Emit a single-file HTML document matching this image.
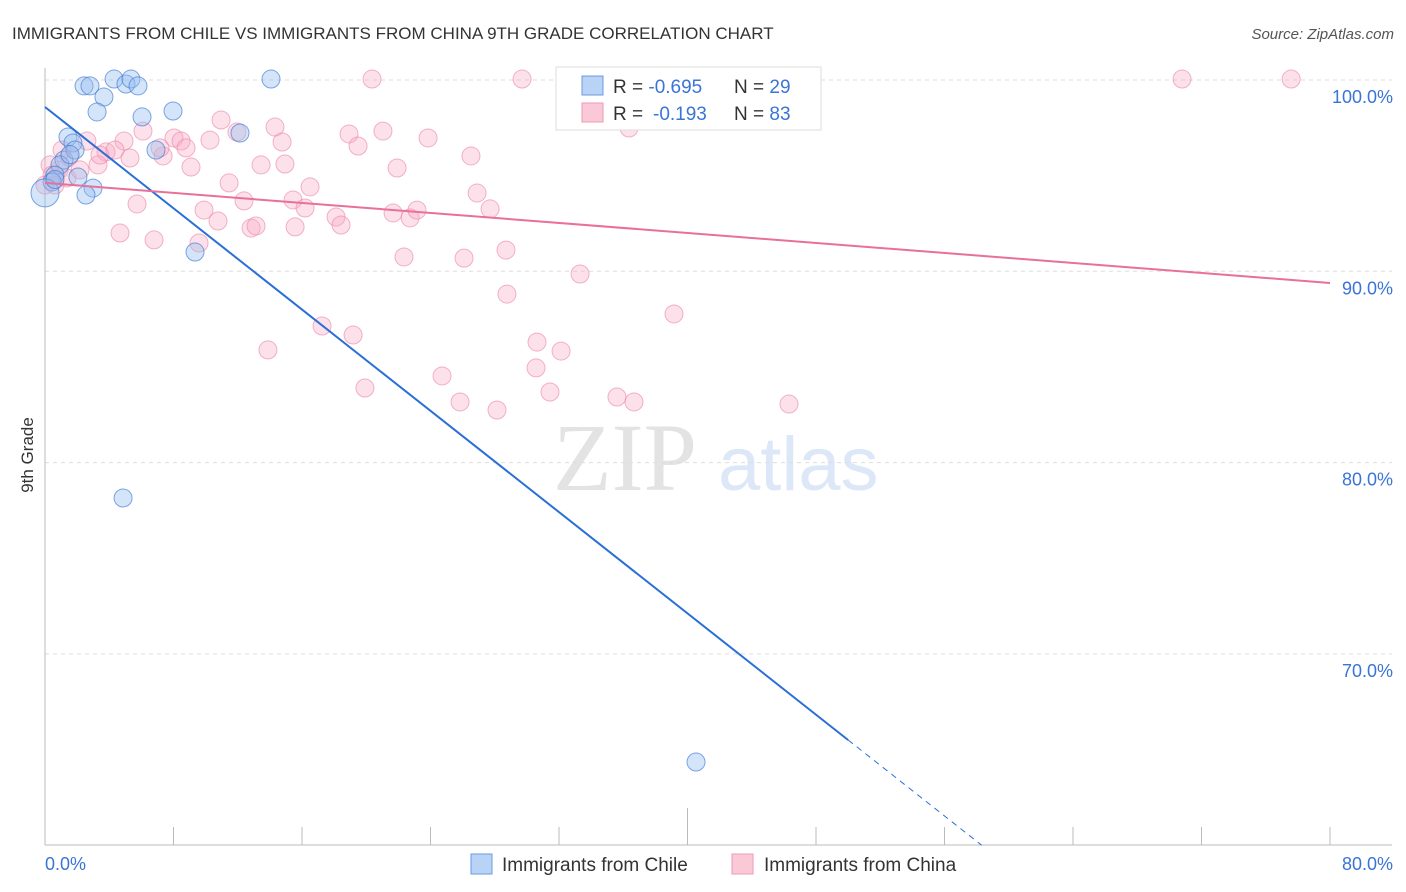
<!DOCTYPE html>
<html><head><meta charset="utf-8"><style>
html,body{margin:0;padding:0;background:#fff;width:1406px;height:892px;overflow:hidden;font-family:"Liberation Sans",sans-serif}
</style></head><body>
<svg id="chart" width="1406" height="892" xmlns="http://www.w3.org/2000/svg" font-family="Liberation Sans, sans-serif">
<text x="12" y="39" font-size="17" fill="#333">IMMIGRANTS FROM CHILE VS IMMIGRANTS FROM CHINA 9TH GRADE CORRELATION CHART</text>
<text x="1394" y="39" font-size="15" fill="#555" text-anchor="end" font-style="italic">Source: ZipAtlas.com</text>
<text transform="translate(33,455) rotate(-90)" font-size="17" fill="#333" text-anchor="middle">9th Grade</text>
<g>
<text x="553" y="490" font-size="96" fill="#e3e3e3" font-family="Liberation Serif, serif">ZIP</text>
<text x="718" y="490" font-size="76" fill="#dce8f7">atlas</text>
</g>
<g id="grid"></g>
<g id="axes"></g>
<g id="pinkPts"></g>
<g id="bluePts"></g>
<g id="trends"></g>
<g>
<rect x="556" y="67" width="265" height="63" fill="#fff" stroke="#ddd"/>
<rect x="582" y="76" width="21" height="19" fill="#b8d3f5" stroke="#6a9be0"/>
<rect x="582" y="103" width="21" height="19" fill="#fbc8d7" stroke="#ee9ab4"/>
<text x="613" y="93" font-size="19" fill="#333">R = <tspan fill="#3a74d6">-0.695</tspan><tspan x="734">N = </tspan><tspan fill="#3a74d6">29</tspan></text>
<text x="613" y="120" font-size="19" fill="#333">R = <tspan fill="#3a74d6" x="653">-0.193</tspan><tspan x="734">N = </tspan><tspan fill="#3a74d6">83</tspan></text>
</g>
<g>
<rect x="471" y="854" width="21" height="20" fill="#b8d3f5" stroke="#6a9be0"/>
<text x="502" y="871" font-size="19" fill="#333">Immigrants from Chile</text>
<rect x="732" y="854" width="21" height="20" fill="#fbc8d7" stroke="#ee9ab4"/>
<text x="764" y="871" font-size="19" fill="#333">Immigrants from China</text>
</g>
</svg>
<script>
const xTicks=[0,80];
const yTicks=[70,80,90,100];
const chileX=[2.43,2.80,4.30,5.04,5.35,5.79,3.67,3.24,6.04,7.97,14.07,12.14,1.43,1.74,1.18,1.87,0.93,0.62,0.44,2.05,2.99,2.55,0,6.91,9.34,4.86,40.53,0.62,1.56];
const chileY=[99.69,99.69,100.05,99.79,100.05,99.69,99.11,98.33,98.07,98.38,100.05,97.23,97.02,96.71,95.82,96.34,95.56,95.03,94.67,94.93,94.35,93.99,94.1,96.34,91.01,78.15,64.35,94.8,96.1];
const chinaX=[20.36,29.70,32.94,70.79,77.58,36.36,10.96,6.10,4.92,11.95,8.03,8.47,10.27,18.93,21.04,23.85,19.49,14.32,14.76,2.61,3.80,5.29,7.35,8.78,7.16,3.30,1.49,0.87,14.94,13.45,21.92,26.52,9.09,11.46,16.50,26.90,5.73,12.39,15.44,9.90,16.19,21.67,18.12,22.73,23.16,27.71,10.77,12.83,13.14,15.57,18.43,4.67,6.79,9.59,22.35,26.09,28.70,33.31,28.76,39.16,17.25,19.18,30.63,32.13,13.88,30.57,24.72,19.92,31.44,35.61,36.67,25.84,28.14,46.32,1.37,0.31,0.62,0,2.18,3.42,4.36,1.06,0.44];
const chinaY=[100.05,100.05,100.05,100.05,100.05,97.49,97.91,97.33,96.81,97.28,96.97,96.81,96.86,97.18,97.33,96.97,96.55,97.54,96.76,96.81,96.24,95.92,96.03,96.45,96.45,95.56,95.98,95.30,95.61,95.56,95.40,96.03,95.45,94.62,94.41,94.09,93.52,93.68,93.73,93.20,93.31,93.05,92.84,92.79,93.20,93.26,92.63,92.26,92.37,92.32,92.42,92.00,91.64,91.48,90.75,90.69,91.11,89.86,88.81,87.77,87.14,86.67,86.30,85.83,85.89,84.95,84.53,83.90,83.69,83.43,83.17,83.17,82.75,83.06,94.88,95.56,94.51,94.51,95.30,96.08,96.34,96.34,95.03];
const chileTrend=[98.59,65.5]; // y at x=0 and x=50
const chinaTrend=[94.62,89.39]; // y at x=0 and x=80

const NS="http://www.w3.org/2000/svg";
const X0=45,X1=1330,Y0=845,YTOP=68;
function xs(v){return X0+(v/80)*(X1-X0);}
function ys(v){return 80+(100-v)*19.13;}
function mk(tag,attrs,parent){const e=document.createElementNS(NS,tag);for(const k in attrs)e.setAttribute(k,attrs[k]);parent.appendChild(e);return e;}
const grid=document.getElementById('grid'),axes=document.getElementById('axes');
yTicks.forEach(t=>{
  const l=mk('line',{x1:X0,x2:1392,y1:ys(t),y2:ys(t),stroke:'#ddd','stroke-dasharray':'4,4'},grid);
  
  
  const tx=mk('text',{x:1393,y:ys(t)+23,'font-size':18,fill:'#3a74d6','text-anchor':'end'},axes);
  tx.textContent=t.toFixed(1)+'%';
  
  
});
const ax=mk('line',{x1:X0,x2:X0,y1:YTOP,y2:Y0,stroke:'#bbb'},axes);


const bx=mk('line',{x1:X0,x2:1392,y1:Y0,y2:Y0,stroke:'#bbb'},axes);


for(let i=1;i<=10;i++){
  const v=i*8;const tk=mk('line',{x1:xs(v),x2:xs(v),y1:i==5?808:827,y2:Y0,stroke:'#bbb'},axes);
  
  
}
xTicks.forEach((t,i)=>{
  const tx=mk('text',{x:i==0?45:1393,y:870,'font-size':18,fill:'#3a74d6','text-anchor':i==0?'start':'end'},axes);
  tx.textContent=t.toFixed(1)+'%';
  
  
});
const pp=document.getElementById('pinkPts');
chinaX.forEach((x,i)=>{
  const c=mk('circle',{cx:xs(x),cy:ys(chinaY[i]),r:9,fill:'rgba(248,170,195,0.35)',stroke:'rgba(235,130,165,0.6)','stroke-width':1},pp);
  
  
});
const bp=document.getElementById('bluePts');
chileX.forEach((x,i)=>{
  const c=mk('circle',{cx:xs(x),cy:ys(chileY[i]),r:i==22?14:9,fill:'rgba(150,190,240,0.4)',stroke:'rgba(60,120,210,0.65)','stroke-width':1},bp);
  
  
});
const tr=document.getElementById('trends');
const slope=(chileTrend[1]-chileTrend[0])/50;
const xEnd=(60-chileTrend[0])/slope;
const l1=mk('line',{x1:xs(0),y1:ys(chileTrend[0]),x2:xs(50),y2:ys(chileTrend[1]),stroke:'#2a6fd6','stroke-width':2},tr);


const l2=mk('line',{x1:xs(50),y1:ys(chileTrend[1]),x2:xs(xEnd),y2:ys(60),stroke:'#2a6fd6','stroke-width':1,'stroke-dasharray':'6,5'},tr);


const l3=mk('line',{x1:xs(0),y1:ys(chinaTrend[0]),x2:xs(80),y2:ys(chinaTrend[1]),stroke:'#e8709a','stroke-width':2},tr);


</script>
</body></html>
